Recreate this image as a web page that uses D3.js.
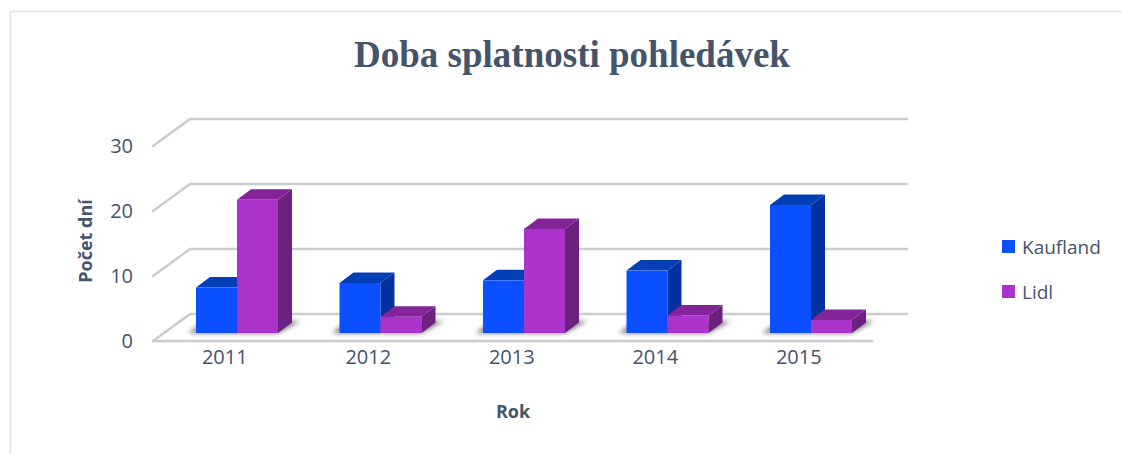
<!DOCTYPE html>
<html>
<head>
<meta charset="utf-8">
<script src="https://cdn.jsdelivr.net/npm/d3@7"></script>
<style>
  html, body { margin: 0; padding: 0; background: #fff; }
  svg { display: block; }
  text { font-family: "Open Sans", sans-serif; fill: #44546a; }
</style>
</head>
<body>
<svg id="chart" width="1122" height="454"></svg>
<script>
var years = ["2011", "2012", "2013", "2014", "2015"];
var seriesNames = ["Kaufland", "Lidl"];
var kaufland = [7, 7.7, 8.1, 9.6, 19.7];
var lidl = [20.5, 2.5, 16, 2.7, 2];
var yTicks = [0, 10, 20, 30];
var colors = {Kaufland: "#0a50ff", Lidl: "#aa33cc"};
var sideColors = {Kaufland: "#0531a0", Lidl: "#6c2180"};
var topColors = {Kaufland: "#053fb5", Lidl: "#832498"};

var svg = d3.select("#chart");

// 3d offsets: wall is set back from the front of the floor, bars stand between
var wall = {dx: 37, dy: -27},
    plane = {dx: 12, dy: -8},
    depth = {dx: 14, dy: -10.5};

var x = d3.scaleBand().domain(years).range([153, 870.5]).paddingInner(0).paddingOuter(0);
var x1 = d3.scaleBand().domain(seriesNames).range([31, 113]);
var y = d3.scaleLinear().domain([0, 30]).range([341, 146]);

var defs = svg.append("defs");
defs.append("filter").attr("id", "soft").attr("x", "-30%").attr("y", "-100%").attr("width", "160%").attr("height", "300%")
    .append("feGaussianBlur").attr("stdDeviation", 2.5);

// frame
svg.append("path")
    .attr("d", d3.line()([[10.5, 454], [10.5, 11.5], [1122, 11.5]]))
    .attr("fill", "none")
    .attr("stroke", "#e4e8f0")
    .attr("stroke-width", 2);

svg.append("text")
    .attr("x", 572)
    .attr("y", 67)
    .attr("text-anchor", "middle")
    .style("font-family", "'Liberation Serif', serif")
    .style("font-weight", "bold")
    .style("font-size", "37px")
    .text("Doba splatnosti pohledávek");

// gridlines
var grid = svg.append("g");
grid.selectAll("path.wall").data(yTicks).enter().append("path")
    .attr("class", "wall")
    .attr("fill", "none")
    .attr("stroke", "#c9ccd0")
    .attr("stroke-width", 2.5)
    .attr("stroke-linecap", "round")
    .attr("d", function(d) {
      return d3.line()([[153, y(d)], [153 + wall.dx, y(d) + wall.dy], [907, y(d) + wall.dy]]);
    });
grid.append("path")
    .attr("fill", "none")
    .attr("stroke", "#c9ccd0")
    .attr("stroke-width", 2.5)
    .attr("stroke-linecap", "round")
    .attr("d", d3.line()([[153, y(0)], [872, y(0)]]));

// floor shadow of each group
var groups = svg.append("g").selectAll("g").data(years).enter().append("g")
    .attr("transform", function(d) { return "translate(" + (x(d) + plane.dx) + "," + plane.dy + ")"; });

groups.append("path")
    .attr("fill", "#000")
    .attr("opacity", 0.55)
    .attr("filter", "url(#soft)")
    .attr("d", function() {
      var x0 = x1("Kaufland"), x2 = x1("Lidl") + x1.bandwidth(), b = y(0);
      return d3.line()([[x0 - 8, b], [x2, b], [x2 + 22, b - 12], [x0 + 10, b - 12]]);
    });

var bars = seriesNames.map(function(name, s) {
  var values = s == 0 ? kaufland : lidl;
  return groups.append("g").each(function(d, i) {
    var g = d3.select(this),
        x0 = x1(name),
        w = x1.bandwidth(),
        top = y(values[i]),
        b = y(0);
    g.append("path")
        .attr("fill", sideColors[name])
        .attr("d", d3.line()([[x0 + w, top], [x0 + w + depth.dx, top + depth.dy], [x0 + w + depth.dx, b + depth.dy], [x0 + w, b]]) + "Z");
    g.append("path")
        .attr("fill", topColors[name])
        .attr("d", d3.line()([[x0, top], [x0 + depth.dx, top + depth.dy], [x0 + w + depth.dx, top + depth.dy], [x0 + w, top]]) + "Z");
    g.append("rect")
        .attr("x", x0)
        .attr("y", top)
        .attr("width", w)
        .attr("height", b - top)
        .attr("fill", colors[name]);
  });
});

// axes
var xAxis = svg.append("g")
    .attr("transform", "translate(0,345)")
    .call(d3.axisBottom(x).tickSize(0).tickPadding(5));
xAxis.select(".domain").remove();
xAxis.selectAll("text").style("font-size", "20px").style("font-family", "'Open Sans', sans-serif").attr("fill", "#44546a");

var yAxis = svg.append("g")
    .attr("transform", "translate(133,0)")
    .call(d3.axisLeft(y).tickValues(yTicks).tickSize(0).tickPadding(0));
yAxis.select(".domain").remove();
yAxis.selectAll("text").style("font-size", "20px").style("font-family", "'Open Sans', sans-serif").attr("fill", "#44546a");

svg.append("text")
    .attr("x", 513)
    .attr("y", 418)
    .attr("text-anchor", "middle")
    .style("font-size", "18px")
    .style("font-weight", "bold")
    .text("Rok");

svg.append("text")
    .attr("transform", "translate(92,241) rotate(-90)")
    .attr("text-anchor", "middle")
    .style("font-size", "18px")
    .style("font-weight", "bold")
    .text("Počet dní");

// legend
var legend = svg.append("g").selectAll("g").data(seriesNames).enter().append("g")
    .attr("transform", function(d, i) { return "translate(1002," + (240 + i * 45) + ")"; });
legend.append("rect")
    .attr("width", 13)
    .attr("height", 13)
    .attr("fill", function(d) { return colors[d]; });
legend.append("text")
    .attr("x", 20)
    .attr("y", 14)
    .style("font-size", "19px")
    .text(function(d) { return d; });
</script>
</body>
</html>
